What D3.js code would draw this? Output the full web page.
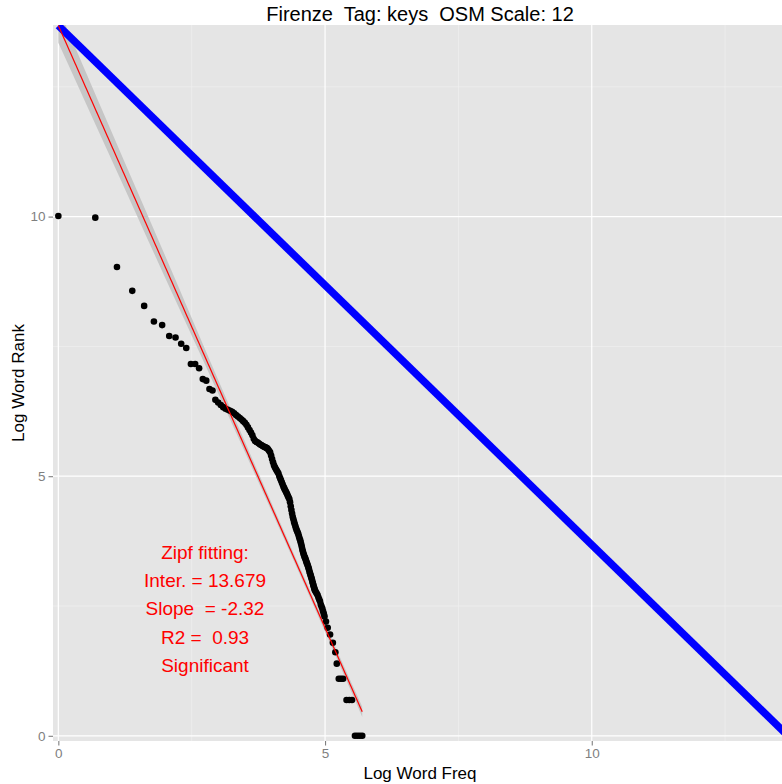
<!DOCTYPE html>
<html><head><meta charset="utf-8">
<script src="https://cdn.jsdelivr.net/npm/d3@7"></script>
<style>
html,body{margin:0;padding:0;background:#fff;}
svg{display:block;font-family:"Liberation Sans",Arial,Helvetica,sans-serif;}
</style></head>
<body><svg id="chart" width="782" height="784"></svg>
<script>
// ---- data ----
const titleText = "Firenze  Tag: keys  OSM Scale: 12";
const xLabel = "Log Word Freq";
const yLabel = "Log Word Rank";
const xTicks = [0, 5, 10];
const yTicks = [0, 5, 10];
const xMinor = [2.5, 7.5, 12.5];
const yMinor = [2.5, 7.5, 12.5];

const logFreq = [0, 0.693, 1.099, 1.386, 1.609, 1.792, 1.946, 2.079, 2.197, 2.303, 2.398, 2.485, 2.565, 2.639, 2.708, 2.773, 2.833, 2.890, 2.944, 2.996, 3.045, 3.091,
 3.135, 3.178, 3.219, 3.258, 3.296, 3.332, 3.367, 3.401, 3.434, 3.466, 3.497, 3.526, 3.555, 3.584, 3.611, 3.638, 3.664, 3.689, 3.714, 3.738, 3.761, 3.784, 3.807, 3.829, 3.850, 3.871, 3.892, 3.912, 3.932, 3.951, 3.970, 3.989,
 4.007, 4.025, 4.043, 4.060, 4.078, 4.094, 4.111, 4.127, 4.143, 4.159, 4.174, 4.190, 4.205, 4.220, 4.234, 4.248, 4.263, 4.277, 4.290, 4.304, 4.317, 4.331, 4.344, 4.357, 4.369, 4.382, 4.394, 4.407, 4.419, 4.431, 4.443, 4.454, 4.466, 4.477, 4.489,
 4.500, 4.511, 4.522, 4.533, 4.543, 4.554, 4.564, 4.575, 4.585, 4.595, 4.605, 4.615, 4.625, 4.635, 4.644, 4.654, 4.663, 4.673, 4.682, 4.691, 4.700, 4.710, 4.718, 4.727, 4.736, 4.745, 4.754, 4.762, 4.771, 4.779, 4.787, 4.796, 4.804, 4.812,
 4.828, 4.844, 4.860, 4.875, 4.890, 4.905, 4.920, 4.934, 4.949, 4.963, 4.977, 4.990, 5.017, 5.050, 5.094, 5.147, 5.193, 5.220,
 5.257, 5.298, 5.338, 5.403, 5.455, 5.505, 5.561, 5.606, 5.652, 5.697];
const logRank = [10.01, 9.98, 9.03, 8.57, 8.28, 7.98, 7.91, 7.70, 7.67, 7.55, 7.47, 7.16, 7.16, 7.08, 6.87, 6.84, 6.68, 6.65, 6.47, 6.42, 6.37, 6.33,
 6.30, 6.28, 6.26, 6.24, 6.21, 6.18, 6.15, 6.12, 6.09, 6.06, 6.03, 5.99, 5.94, 5.89, 5.84, 5.79, 5.72, 5.68, 5.66, 5.65, 5.63, 5.61, 5.60, 5.58, 5.57, 5.56, 5.55, 5.54, 5.52, 5.49, 5.46, 5.40,
 5.33, 5.27, 5.21, 5.17, 5.14, 5.11, 5.08, 5.05, 5.00, 4.96, 4.92, 4.88, 4.84, 4.80, 4.77, 4.74, 4.71, 4.68, 4.65, 4.62, 4.59, 4.56, 4.50, 4.42, 4.35, 4.28, 4.22, 4.17, 4.12, 4.08, 4.04, 4.00, 3.97, 3.94, 3.91,
 3.88, 3.84, 3.80, 3.77, 3.73, 3.69, 3.64, 3.59, 3.55, 3.51, 3.48, 3.45, 3.43, 3.40, 3.37, 3.34, 3.32, 3.29, 3.26, 3.23, 3.20, 3.16, 3.13, 3.10, 3.07, 3.04, 3.01, 2.97, 2.94, 2.91, 2.88, 2.85, 2.82, 2.80,
 2.77, 2.74, 2.71, 2.67, 2.63, 2.59, 2.53, 2.49, 2.45, 2.40, 2.35, 2.30, 2.20, 2.08, 1.95, 1.79, 1.61, 1.39,
 1.10, 1.10, 1.10, 0.69, 0.69, 0.69, 0, 0, 0, 0];

// Zipf fit shown in the annotation
const fitIntercept = 13.679;
const fitSlope = -2.32;
const fitXRange = [0, 5.697];
// reference line: slope -1 through the fitted intercept
const refSlope = -1;
const refXRange = [0, 13.679];
// confidence band half-widths (log rank units) read along x
const bandX = [0, 0.5, 1, 1.5, 2, 2.5, 3, 3.5, 4, 4.5, 5, 5.5, 5.697];
const bandHalf = [0.33, 0.30, 0.27, 0.24, 0.21, 0.17, 0.13, 0.10, 0.08, 0.07, 0.08, 0.09, 0.10];

const annotLines = ["Zipf fitting:", "Inter. = 13.679", "Slope  = -2.32", "R2 =  0.93", "Significant"];
const annotPos = [2.75, 2.45];

// ---- layout ----
const svg = d3.select("#chart");
const P = {left: 53, top: 25, right: 787, bottom: 741};
const x = d3.scaleLinear().domain([-0.1, 13.66]).range([P.left, P.right]);
const y = d3.scaleLinear().domain([-0.1, 13.69]).range([P.bottom, P.top]);

svg.append("defs").append("clipPath").attr("id", "clip")
  .append("rect").attr("x", P.left).attr("y", P.top)
  .attr("width", P.right - P.left).attr("height", P.bottom - P.top);

svg.append("rect").attr("x", P.left).attr("y", P.top)
  .attr("width", P.right - P.left).attr("height", P.bottom - P.top).attr("fill", "#E5E5E5");

const grid = svg.append("g").attr("clip-path", "url(#clip)");
grid.selectAll(".xm").data(xMinor).join("line")
  .attr("x1", d => x(d)).attr("x2", d => x(d)).attr("y1", P.top).attr("y2", P.bottom)
  .attr("stroke", "#F2F2F2").attr("stroke-width", 0.6);
grid.selectAll(".ym").data(yMinor).join("line")
  .attr("y1", d => y(d)).attr("y2", d => y(d)).attr("x1", P.left).attr("x2", P.right)
  .attr("stroke", "#F2F2F2").attr("stroke-width", 0.6);
grid.selectAll(".xM").data(xTicks).join("line")
  .attr("x1", d => x(d)).attr("x2", d => x(d)).attr("y1", P.top).attr("y2", P.bottom)
  .attr("stroke", "#FFFFFF").attr("stroke-width", 1.2);
grid.selectAll(".yM").data(yTicks).join("line")
  .attr("y1", d => y(d)).attr("y2", d => y(d)).attr("x1", P.left).attr("x2", P.right)
  .attr("stroke", "#FFFFFF").attr("stroke-width", 1.2);

const plot = svg.append("g").attr("clip-path", "url(#clip)");
const fit = v => fitIntercept + fitSlope * v;

// confidence band
const band = bandX.map((bx, i) => ({x: bx, lo: fit(bx) - bandHalf[i], hi: fit(bx) + bandHalf[i]}));
plot.append("path").datum(band)
  .attr("d", d3.area().x(d => x(d.x)).y0(d => y(d.lo)).y1(d => y(d.hi)).curve(d3.curveMonotoneX))
  .attr("fill", "#C6C6C6");

// reference line (blue)
plot.append("line")
  .attr("x1", x(refXRange[0])).attr("y1", y(fitIntercept + refSlope * refXRange[0]))
  .attr("x2", x(refXRange[1])).attr("y2", y(fitIntercept + refSlope * refXRange[1]))
  .attr("stroke", "#0000FF").attr("stroke-width", 7.5);

// points
const pts = logFreq.map((f, i) => ({x: f, y: logRank[i]}));
plot.selectAll("circle").data(pts).join("circle")
  .attr("cx", d => x(d.x)).attr("cy", d => y(d.y)).attr("r", 3.3).attr("fill", "#000");

// fitted line (red)
plot.append("line")
  .attr("x1", x(fitXRange[0])).attr("y1", y(fit(fitXRange[0])))
  .attr("x2", x(fitXRange[1])).attr("y2", y(fit(fitXRange[1])))
  .attr("stroke", "#FF0000").attr("stroke-width", 1.2);

// annotation
const lineH = 28.2;
const at = svg.append("text").attr("fill", "#FF0000").attr("font-size", 19)
  .attr("text-anchor", "middle").style("white-space", "pre");
annotLines.forEach((t, i) => {
  at.append("tspan").attr("x", x(annotPos[0]))
    .attr("y", y(annotPos[1]) + (i - (annotLines.length - 1) / 2) * lineH + 6.8)
    .text(t);
});

// axes
const tickCol = "#7F7F7F";
const ax = svg.append("g").attr("transform", `translate(0,${P.bottom})`)
  .call(d3.axisBottom(x).tickValues(xTicks).tickSize(4.5).tickPadding(3).tickFormat(d3.format("d")));
const ay = svg.append("g").attr("transform", `translate(${P.left},0)`)
  .call(d3.axisLeft(y).tickValues(yTicks).tickSize(4.5).tickPadding(3).tickFormat(d3.format("d")));
[ax, ay].forEach(g => {
  g.select(".domain").remove();
  g.selectAll(".tick line").attr("stroke", tickCol).attr("stroke-width", 1.1);
  g.selectAll(".tick text").attr("fill", tickCol).attr("font-size", 13.5)
    .attr("font-family", '"Liberation Sans",Arial,sans-serif');
});

// titles
svg.append("text").attr("x", 420).attr("y", 21).attr("text-anchor", "middle")
  .attr("font-size", 20).attr("fill", "#000").style("white-space", "pre").text(titleText);
svg.append("text").attr("x", 420).attr("y", 779).attr("text-anchor", "middle")
  .attr("font-size", 17).attr("fill", "#000").text(xLabel);
svg.append("text").attr("transform", `translate(24,${(P.top + P.bottom) / 2}) rotate(-90)`)
  .attr("text-anchor", "middle").attr("font-size", 17).attr("fill", "#000").text(yLabel);
</script></body></html>
